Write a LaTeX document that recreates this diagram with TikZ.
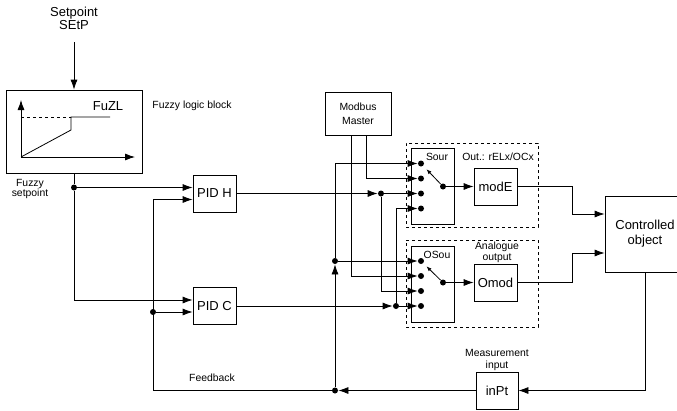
\documentclass[tikz,border=0pt]{standalone}
\usepackage{fontspec}
\setmainfont{Liberation Sans}
\usetikzlibrary{calc, positioning, arrows.meta}
\tikzset{
    blk/.style={rectangle, draw=black, line width=0.8pt, fill=white, align=center, inner sep=0pt, font=\fontsize{13}{15}\selectfont},
    grp/.style={rectangle, draw=black, dashed, line width=0.8pt, inner sep=0pt},
    lbl/.style={font=\fontsize{10.4}{12}\selectfont, align=center, inner sep=0pt},
    big/.style={font=\fontsize{13}{13}\selectfont, align=center, inner sep=0pt},
    dot/.style={circle, fill=black, inner sep=0pt, minimum size=6pt},
    arrow/.style={-{Latex[length=10pt, width=7pt]}, line width=0.8pt},
    lever/.style={-{Latex[length=5pt, width=4pt]}, line width=0.8pt}
}

\begin{document}
\begin{tikzpicture}[x=1pt, y=-1pt, line width=0.8pt]
    \useasboundingbox (0,0) rectangle (677,410);
    \clip (0,0) rectangle (677,410);

    % Blocks
    \node[blk, minimum width=136pt, minimum height=83pt] (fuzzy) at (74,131.5) {};
    \node[blk, minimum width=43pt, minimum height=37pt] (pidh) at (214.5,193.5) {PID H};
    \node[blk, minimum width=43pt, minimum height=37pt] (pidc) at (214.5,306) {PID C};
    \node[blk, minimum width=66pt, minimum height=43pt, font=\fontsize{10.4}{14}\selectfont] (modbus) at (358,113.5) {Modbus\\Master};
    \node[grp, minimum width=132pt, minimum height=84pt] (outgrp) at (472,185) {};
    \node[grp, minimum width=132pt, minimum height=87pt] (anagrp) at (472,283.5) {};
    \node[blk, minimum width=43pt, minimum height=76pt] (sour) at (432.5,186) {};
    \node[blk, minimum width=43pt, minimum height=76pt] (osou) at (432.5,284) {};
    \node[blk, minimum width=43pt, minimum height=37pt] (mode) at (495.5,186.5) {modE};
    \node[blk, minimum width=43pt, minimum height=37pt] (omod) at (495.5,282.5) {Omod};
    \node[blk, minimum width=80pt, minimum height=76pt] (ctrl) at (645,234) {Controlled\\object};
    \node[blk, minimum width=42pt, minimum height=37pt] (inpt) at (497,390.5) {inPt};

    % Labels
    \node[big] (setp) at (74,18.5) {Setpoint\\SEtP};
    \node[big] (fzl) at (108,106) {FuZL};
    \node[lbl] (fzlbl) at (192,106) {Fuzzy logic block};
    \node[lbl, font=\fontsize{10.4}{10.5}\selectfont] (fzsp) at (30,189) {Fuzzy\\setpoint};
    \node[lbl] (sourlbl) at (437,157) {Sour};
    \node[lbl] (osoulbl) at (437,255) {OSou};
    \node[lbl] (outlbl) at (498,157) {Out.: rELx/OCx};
    \node[lbl, font=\fontsize{10.4}{11}\selectfont] (analbl) at (497,252.5) {Analogue\\output};
    \node[lbl] (measlbl) at (497,360) {Measurement\\input};
    \node[lbl] (fblbl) at (212,378) {Feedback};

    % Fuzzy characteristic
    \coordinate (org) at (21,157);
    \draw[arrow] (org) -- (21,100);
    \draw[arrow] (org) -- (135,157);
    \draw[dashed] (21,117) -- (71,117);
    \draw (org) -- (71,130) -- (71,117) -- (110,117);

    % Junctions and switch contacts
    \node[dot] (fzdot) at (74,187.5) {};
    \node[dot] (pcdot) at (153,312) {};
    \node[dot] (fbdot) at (335,390.5) {};
    \node[dot] (mdot) at (335,261) {};
    \node[dot] (hdot) at (381,193.5) {};
    \node[dot] (cdot) at (396,306) {};
    \foreach \i/\y in {1/163.5, 2/178.5, 3/193.5, 4/208.5}
        \node[dot] (s\i) at (421,\y) {};
    \foreach \i/\y in {1/261, 2/276, 3/291, 4/306}
        \node[dot] (o\i) at (421,\y) {};
    \node[dot] (sp) at (443,186.5) {};
    \node[dot] (op) at (443,282.5) {};
    \draw[lever] (sp) -- ($(sp)!0.75!(s1)$);
    \draw[lever] (op) -- ($(op)!0.75!(o1)$);

    % Setpoint path
    \coordinate (sptail) at (74,42);
    \draw[arrow] (sptail) -- (fuzzy.north);
    \draw (fuzzy.south) -- (fzdot);
    \draw[arrow] (fzdot) -- (fzdot -| pidh.west);
    \draw[arrow] (fzdot) |- ($(pidc.west)+(0,-6)$);

    % Feedback path
    \coordinate (fbc) at (153,390.5);
    \draw[arrow] (ctrl.south) |- (inpt.east);
    \draw[arrow] (inpt.west) -- (fbdot);
    \draw (fbdot) -- (fbc);
    \draw[arrow] (fbc) |- ($(pidh.west)+(0,6)$);
    \draw[arrow] (pcdot) -- (pcdot -| pidc.west);
    \draw[arrow] (fbdot) -- (mdot);
    \draw[arrow] (mdot) -- (o1);
    \draw[arrow] (mdot) |- (s1);

    % Controller outputs
    \draw[arrow] (pidh.east) -- (hdot);
    \draw[arrow] (hdot) -- (s3);
    \draw[arrow] (hdot) |- (o3);
    \draw[arrow] (pidc.east) -- (cdot);
    \draw[arrow] (cdot) -- (o4);
    \draw[arrow] (cdot) |- (s4);

    % Modbus
    \draw[arrow] ($(modbus.south)+(-7,0)$) |- (o2);
    \draw[arrow] ($(modbus.south)+(8,0)$) |- (s2);

    % Outputs to object
    \coordinate (xm) at (572,0);
    \draw[arrow] (sp) -- (mode);
    \draw[arrow] (op) -- (omod);
    \draw[arrow] (mode.east) -- (mode.east -| xm) |- ($(ctrl.west)+(0,-20)$);
    \draw[arrow] (omod.east) -- (omod.east -| xm) |- ($(ctrl.west)+(0,19)$);
\end{tikzpicture}
\end{document}
